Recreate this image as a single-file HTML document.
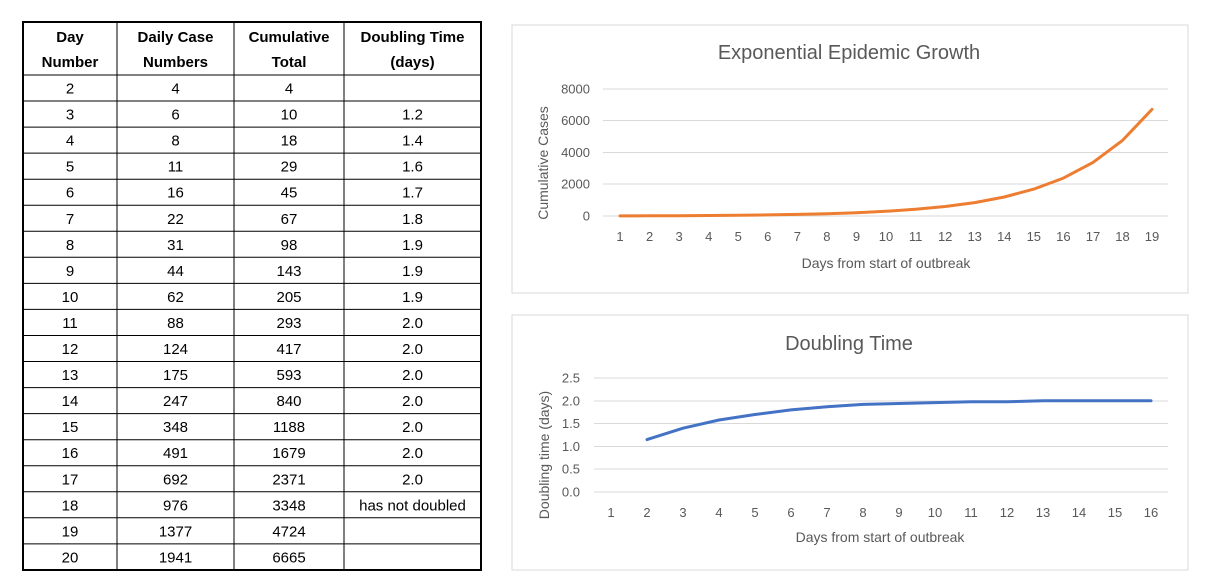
<!DOCTYPE html>
<html><head><meta charset="utf-8"><style>
html,body{margin:0;padding:0;background:#fff;}
svg{display:block;font-family:"Liberation Sans",sans-serif;}
</style></head><body>
<svg width="1210" height="588" viewBox="0 0 1210 588" xmlns="http://www.w3.org/2000/svg">
<g stroke="#000" fill="none">
<rect x="23" y="22" width="458" height="548" stroke-width="2"/>
<g stroke-width="1">
<line x1="117" y1="22" x2="117" y2="570"/><line x1="234" y1="22" x2="234" y2="570"/><line x1="344" y1="22" x2="344" y2="570"/>
<line x1="23" y1="75" x2="481" y2="75"/>
<line x1="23" y1="101" x2="481" y2="101"/><line x1="23" y1="127.1" x2="481" y2="127.1"/><line x1="23" y1="153.1" x2="481" y2="153.1"/>
<line x1="23" y1="179.2" x2="481" y2="179.2"/><line x1="23" y1="205.2" x2="481" y2="205.2"/><line x1="23" y1="231.3" x2="481" y2="231.3"/>
<line x1="23" y1="257.3" x2="481" y2="257.3"/><line x1="23" y1="283.4" x2="481" y2="283.4"/><line x1="23" y1="309.4" x2="481" y2="309.4"/>
<line x1="23" y1="335.5" x2="481" y2="335.5"/><line x1="23" y1="361.5" x2="481" y2="361.5"/><line x1="23" y1="387.6" x2="481" y2="387.6"/>
<line x1="23" y1="413.6" x2="481" y2="413.6"/><line x1="23" y1="439.7" x2="481" y2="439.7"/><line x1="23" y1="465.7" x2="481" y2="465.7"/>
<line x1="23" y1="491.8" x2="481" y2="491.8"/><line x1="23" y1="517.8" x2="481" y2="517.8"/><line x1="23" y1="543.9" x2="481" y2="543.9"/>
</g></g>
<g font-size="15" font-weight="bold" text-anchor="middle" fill="#000">
<text x="70" y="42">Day</text><text x="70" y="67">Number</text>
<text x="175.5" y="42">Daily Case</text><text x="175.5" y="67">Numbers</text>
<text x="289" y="42">Cumulative</text><text x="289" y="67">Total</text>
<text x="412.5" y="42">Doubling Time</text><text x="412.5" y="67">(days)</text>
</g>
<g font-size="15" text-anchor="middle" fill="#000">
<text x="70" y="93.5">2</text><text x="175.5" y="93.5">4</text><text x="289" y="93.5">4</text>
<text x="70" y="119.6">3</text><text x="175.5" y="119.6">6</text><text x="289" y="119.6">10</text><text x="412.5" y="119.6">1.2</text>
<text x="70" y="145.6">4</text><text x="175.5" y="145.6">8</text><text x="289" y="145.6">18</text><text x="412.5" y="145.6">1.4</text>
<text x="70" y="171.7">5</text><text x="175.5" y="171.7">11</text><text x="289" y="171.7">29</text><text x="412.5" y="171.7">1.6</text>
<text x="70" y="197.7">6</text><text x="175.5" y="197.7">16</text><text x="289" y="197.7">45</text><text x="412.5" y="197.7">1.7</text>
<text x="70" y="223.8">7</text><text x="175.5" y="223.8">22</text><text x="289" y="223.8">67</text><text x="412.5" y="223.8">1.8</text>
<text x="70" y="249.8">8</text><text x="175.5" y="249.8">31</text><text x="289" y="249.8">98</text><text x="412.5" y="249.8">1.9</text>
<text x="70" y="275.9">9</text><text x="175.5" y="275.9">44</text><text x="289" y="275.9">143</text><text x="412.5" y="275.9">1.9</text>
<text x="70" y="301.9">10</text><text x="175.5" y="301.9">62</text><text x="289" y="301.9">205</text><text x="412.5" y="301.9">1.9</text>
<text x="70" y="328">11</text><text x="175.5" y="328">88</text><text x="289" y="328">293</text><text x="412.5" y="328">2.0</text>
<text x="70" y="354">12</text><text x="175.5" y="354">124</text><text x="289" y="354">417</text><text x="412.5" y="354">2.0</text>
<text x="70" y="380.1">13</text><text x="175.5" y="380.1">175</text><text x="289" y="380.1">593</text><text x="412.5" y="380.1">2.0</text>
<text x="70" y="406.1">14</text><text x="175.5" y="406.1">247</text><text x="289" y="406.1">840</text><text x="412.5" y="406.1">2.0</text>
<text x="70" y="432.2">15</text><text x="175.5" y="432.2">348</text><text x="289" y="432.2">1188</text><text x="412.5" y="432.2">2.0</text>
<text x="70" y="458.2">16</text><text x="175.5" y="458.2">491</text><text x="289" y="458.2">1679</text><text x="412.5" y="458.2">2.0</text>
<text x="70" y="484.3">17</text><text x="175.5" y="484.3">692</text><text x="289" y="484.3">2371</text><text x="412.5" y="484.3">2.0</text>
<text x="70" y="510.3">18</text><text x="175.5" y="510.3">976</text><text x="289" y="510.3">3348</text><text x="412.5" y="510.3">has not doubled</text>
<text x="70" y="536.4">19</text><text x="175.5" y="536.4">1377</text><text x="289" y="536.4">4724</text>
<text x="70" y="562.4">20</text><text x="175.5" y="562.4">1941</text><text x="289" y="562.4">6665</text>
</g>

<rect x="512" y="25" width="676" height="268" fill="#fff" stroke="#d9d9d9"/>
<text x="849" y="59" font-size="20" fill="#595959" text-anchor="middle">Exponential Epidemic Growth</text>
<g stroke="#d9d9d9" stroke-width="1">
<line x1="603" y1="89" x2="1168" y2="89"/><line x1="603" y1="120.5" x2="1168" y2="120.5"/><line x1="603" y1="152.5" x2="1168" y2="152.5"/><line x1="603" y1="184" x2="1168" y2="184"/><line x1="603" y1="216" x2="1168" y2="216"/>
</g>
<g font-size="13" fill="#595959" text-anchor="end">
<text x="590" y="93.5">8000</text><text x="590" y="125">6000</text><text x="590" y="157">4000</text><text x="590" y="188.5">2000</text><text x="590" y="220.5">0</text>
</g>
<g font-size="13" fill="#595959" text-anchor="middle">
<text x="620" y="241">1</text><text x="649.6" y="241">2</text><text x="679.1" y="241">3</text><text x="708.7" y="241">4</text><text x="738.2" y="241">5</text><text x="767.8" y="241">6</text><text x="797.4" y="241">7</text><text x="826.9" y="241">8</text><text x="856.5" y="241">9</text><text x="886" y="241">10</text><text x="915.6" y="241">11</text><text x="945.2" y="241">12</text><text x="974.7" y="241">13</text><text x="1004.3" y="241">14</text><text x="1033.8" y="241">15</text><text x="1063.4" y="241">16</text><text x="1093" y="241">17</text><text x="1122.5" y="241">18</text><text x="1152" y="241">19</text>
</g>
<text x="886" y="268" font-size="14" fill="#595959" text-anchor="middle">Days from start of outbreak</text>
<text transform="translate(548,163) rotate(-90)" font-size="14" fill="#595959" text-anchor="middle">Cumulative Cases</text>
<polyline fill="none" stroke="#ed7d31" stroke-width="3" stroke-linejoin="round" stroke-linecap="round"
points="620,215.9 649.6,215.8 679.1,215.7 708.7,215.5 738.2,215.3 767.8,214.9 797.4,214.4 826.9,213.7 856.5,212.7 886,211.3 915.6,209.3 945.2,206.5 974.7,202.6 1004.3,197 1033.8,189.1 1063.4,178.1 1093,162.4 1122.5,140.4 1152,109.4"/>

<rect x="512" y="315" width="676" height="255" fill="#fff" stroke="#d9d9d9"/>
<text x="849" y="350" font-size="20" fill="#595959" text-anchor="middle">Doubling Time</text>
<g stroke="#d9d9d9" stroke-width="1">
<line x1="594" y1="378" x2="1168" y2="378"/><line x1="594" y1="401" x2="1168" y2="401"/><line x1="594" y1="423.5" x2="1168" y2="423.5"/><line x1="594" y1="446.5" x2="1168" y2="446.5"/><line x1="594" y1="469" x2="1168" y2="469"/><line x1="594" y1="492" x2="1168" y2="492"/>
</g>
<g font-size="13" fill="#595959" text-anchor="end">
<text x="580" y="382.5">2.5</text><text x="580" y="405.5">2.0</text><text x="580" y="428">1.5</text><text x="580" y="451">1.0</text><text x="580" y="473.5">0.5</text><text x="580" y="496.5">0.0</text>
</g>
<g font-size="13" fill="#595959" text-anchor="middle">
<text x="611" y="517">1</text><text x="647" y="517">2</text><text x="683" y="517">3</text><text x="719" y="517">4</text><text x="755" y="517">5</text><text x="791" y="517">6</text><text x="827" y="517">7</text><text x="863" y="517">8</text><text x="899" y="517">9</text><text x="935" y="517">10</text><text x="971" y="517">11</text><text x="1007" y="517">12</text><text x="1043" y="517">13</text><text x="1079" y="517">14</text><text x="1115" y="517">15</text><text x="1151" y="517">16</text>
</g>
<text x="880" y="542" font-size="14" fill="#595959" text-anchor="middle">Days from start of outbreak</text>
<text transform="translate(549,455) rotate(-90)" font-size="14" fill="#595959" text-anchor="middle">Doubling time (days)</text>
<polyline fill="none" stroke="#4472c4" stroke-width="3" stroke-linejoin="round" stroke-linecap="round"
points="647,439.6 683,428.2 719,420 755,414.5 791,409.9 827,406.7 863,404.4 899,403.5 935,402.6 971,401.7 1007,401.7 1043,400.8 1079,400.8 1115,400.8 1151,400.8"/>
</svg>
</body></html>
